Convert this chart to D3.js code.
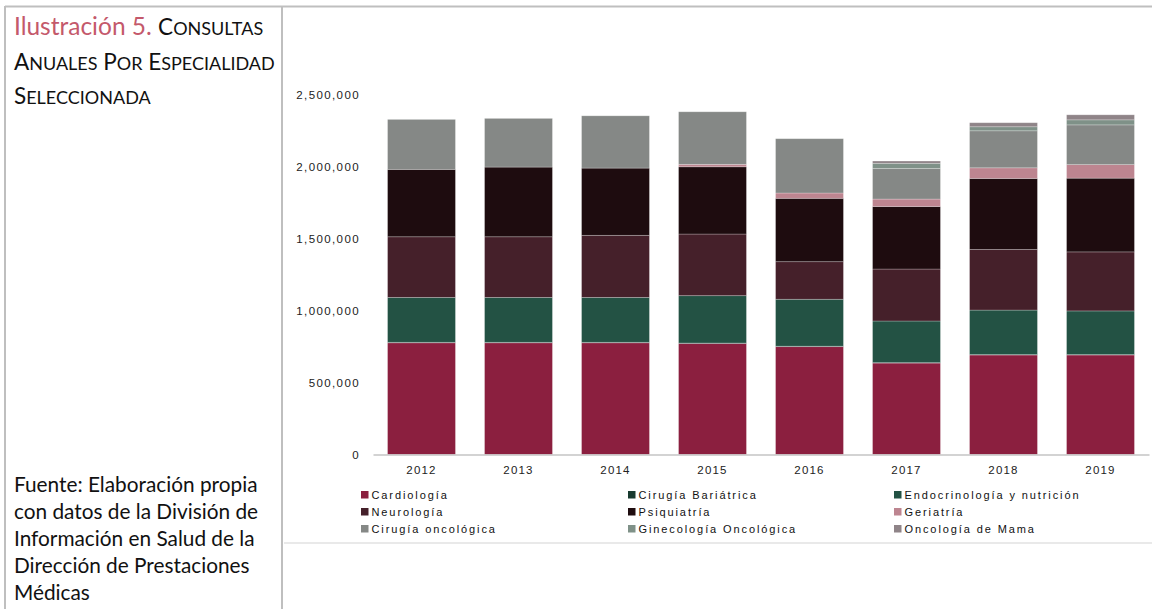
<!DOCTYPE html>
<html>
<head>
<meta charset="utf-8">
<script src="https://cdn.jsdelivr.net/npm/d3@7"></script>
<style>
  body { margin: 0; background: #fff; }
  svg { display: block; }
</style>
</head>
<body>
<svg id="chart" width="1152" height="609"></svg>
<script>
// Años y especialidades
const years = ["2012", "2013", "2014", "2015", "2016", "2017", "2018", "2019"];
const especialidades = [
  "Cardiología", "Cirugía Bariátrica", "Endocrinología y nutrición",
  "Neurología", "Psiquiatría", "Geriatría",
  "Cirugía oncológica", "Ginecología Oncológica", "Oncología de Mama"
];
const colores = [
  "#8b1f3f", "#173a2f", "#235244",
  "#45202a", "#1e0c0f", "#bd8590",
  "#858886", "#7f9188", "#8f8488"
];

// Consultas anuales por especialidad
const cardiologia      = [776000, 776000, 776000, 771000, 749000, 635000, 691000, 691000];
const cirugiaBariatrica = [3000, 3000, 3000, 3000, 3000, 3000, 3000, 3000];
const endocrinologia   = [312000, 312000, 312000, 329000, 326000, 289000, 309000, 303000];
const neurologia       = [421000, 421000, 431000, 428000, 261000, 361000, 421000, 410000];
const psiquiatria      = [468000, 484000, 467000, 467000, 440000, 434000, 493000, 512000];
const geriatria        = [0, 0, 0, 17000, 37000, 52000, 74000, 94000];
const cirugiaOncologica = [347000, 338000, 363000, 365000, 377000, 213000, 257000, 276000];
const ginecologiaOnc   = [0, 0, 0, 0, 0, 35000, 28000, 35000];
const oncologiaMama    = [0, 0, 0, 0, 0, 16000, 28000, 35000];

const series = [cardiologia, cirugiaBariatrica, endocrinologia, neurologia, psiquiatria,
                geriatria, cirugiaOncologica, ginecologiaOnc, oncologiaMama];

const yTicks = [0, 500000, 1000000, 1500000, 2000000, 2500000];

const rows = years.map((yr, i) => {
  const r = { year: yr };
  especialidades.forEach((e, k) => { r[e] = series[k][i]; });
  return r;
});

const svg = d3.select("#chart");

// Marco de la tabla
const frame = svg.append("g").attr("stroke", "#bfbfbf").attr("stroke-width", 2).attr("fill", "none");
frame.append("line").attr("x1", 5).attr("x2", 1152).attr("y1", 6.5).attr("y2", 6.5);
frame.append("line").attr("x1", 5).attr("x2", 5).attr("y1", 6).attr("y2", 609);
frame.append("line").attr("x1", 282).attr("x2", 282).attr("y1", 6).attr("y2", 609);
svg.append("line").attr("x1", 284).attr("x2", 1152).attr("y1", 543).attr("y2", 543)
  .attr("stroke", "#e9e9e9").attr("stroke-width", 2);

// Título con versalitas: mayúsculas a tamaño completo, minúsculas como mayúsculas reducidas
const titleFont = "Lato, 'Open Sans', sans-serif";
const capSize = 22.5, smallSize = 18;
function smallCaps(textSel, str) {
  const parts = str.match(/([A-ZÁÉÍÓÚÑ\s]+|[^A-ZÁÉÍÓÚÑ\s]+)/g);
  parts.forEach(p => {
    const isUpper = /^[A-ZÁÉÍÓÚÑ\s]+$/.test(p);
    textSel.append("tspan")
      .attr("font-size", isUpper ? capSize : smallSize)
      .text(isUpper ? p : p.toUpperCase());
  });
}
const title = svg.append("g").attr("font-family", titleFont).attr("fill", "#111");
const t1 = title.append("text").attr("x", 14).attr("y", 35);
t1.append("tspan").attr("font-size", 24.5).attr("fill", "#c4596b").text("Ilustración 5. ");
smallCaps(t1, "Consultas");
smallCaps(title.append("text").attr("x", 14).attr("y", 69.5), "Anuales Por Especialidad");
smallCaps(title.append("text").attr("x", 14).attr("y", 104), "Seleccionada");

// Fuente
const fuente = ["Fuente: Elaboración propia", "con datos de la División de",
  "Información en Salud de la", "Dirección de Prestaciones", "Médicas"];
svg.append("g").selectAll("text").data(fuente).join("text")
  .attr("x", 14).attr("y", (d, i) => 492 + i * 27)
  .attr("font-family", titleFont)
  .attr("font-size", 20.8).attr("fill", "#111")
  .text(d => d);

// Escalas
const x = d3.scaleBand().domain(years).range([373, 1149]).paddingInner(0.3).paddingOuter(0.15);
const y = d3.scaleLinear().domain([0, 2500000]).range([454.5, 94.5]);

const stack = d3.stack().keys(especialidades)(rows);
const color = d3.scaleOrdinal().domain(especialidades).range(colores);

svg.append("g").selectAll("g").data(stack).join("g")
  .attr("fill", d => color(d.key))
  .selectAll("rect").data(d => d).join("rect")
  .attr("x", d => x(d.data.year))
  .attr("width", x.bandwidth())
  .attr("y", d => y(d[1]))
  .attr("height", d => y(d[0]) - y(d[1]))
  .attr("stroke", "#ffffff").attr("stroke-opacity", 0.3).attr("stroke-width", 0.8);

// Ejes
const fontChart = "'Liberation Sans', Arial, sans-serif";
const yAxis = svg.append("g").attr("transform", "translate(373,0)")
  .call(d3.axisLeft(y).tickValues(yTicks).tickFormat(d3.format(",")).tickSize(0).tickPadding(13));
yAxis.select(".domain").remove();
yAxis.selectAll("text").attr("font-family", fontChart).attr("font-size", 11.5)
  .attr("letter-spacing", 1.4).attr("fill", "#222");

const xAxis = svg.append("g").attr("transform", "translate(0,454.5)")
  .call(d3.axisBottom(x).tickSize(0).tickPadding(11));
xAxis.select(".domain").attr("stroke", "#c4c4c4").attr("stroke-width", 1.5);
xAxis.selectAll("text").attr("font-family", fontChart).attr("font-size", 11.5)
  .attr("letter-spacing", 1.2).attr("fill", "#222");

// Leyenda
const legX = [361, 628, 894];
const legY = [495, 512, 529];
const leg = svg.append("g").selectAll("g").data(especialidades).join("g")
  .attr("transform", (d, i) => `translate(${legX[i % 3]},${legY[Math.floor(i / 3)]})`);
leg.append("rect").attr("x", 0).attr("y", -4).attr("width", 7.5).attr("height", 7.5)
  .attr("fill", d => color(d));
leg.append("text").attr("x", 10.5).attr("y", 4)
  .attr("font-family", fontChart).attr("font-size", 11)
  .attr("letter-spacing", 1.9).attr("fill", "#111")
  .text(d => d);
</script>
</body>
</html>
